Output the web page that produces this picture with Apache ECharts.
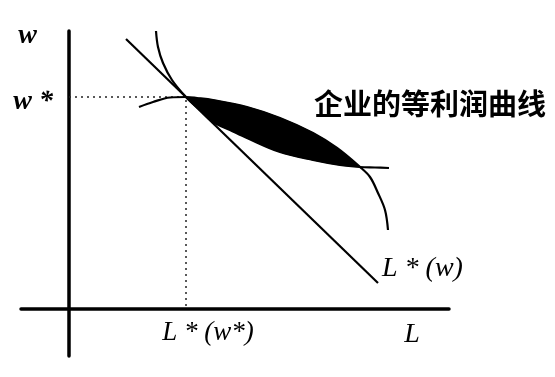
<!DOCTYPE html>
<html>
<head>
<meta charset="utf-8">
<script src="https://cdn.jsdelivr.net/npm/echarts@6/dist/echarts.min.js"></script>
<style>
  html, body { margin: 0; padding: 0; background: #fff; }
  #chart { width: 555px; height: 377px; }
</style>
</head>
<body>
<div id="chart"></div>
<script>
// ---- data (abstract units: labour L horizontally, wage w vertically) ----
const tangentPoint = [11.7, 21.2];              // (L*(w*), w*)
const crossPoint = [29.1, 14.2];                // where the two curves meet again
const tangentLine = [[5.7, 27.0], [30.9, 2.6]]; // L*(w)

// isoprofit curve A: steep top, tangent to L*(w), lower edge of the lens, flat tail
const curveASteep = [[8.7, 27.8], [8.9, 26.2], [9.4, 24.6], [10.3, 22.9]];
const lensLower = [[13.1, 19.9], [14.4, 18.7], [16.1, 17.9], [17.8, 17.1], [21.1, 15.7], [24.4, 14.9], [27.1, 14.4]];
const curveATail = [[30.6, 14.15], [32.0, 14.1]];

// isoprofit curve B: flat at w*, upper edge of the lens, steep tail
const curveBHead = [[7.0, 20.2], [8.4, 20.7], [10.1, 21.15]];
const lensUpper = [[12.8, 21.1], [14.4, 20.9], [17.8, 20.2], [21.1, 19.1], [24.4, 17.6], [26.8, 16.1]];
const curveBTail = [[30.1, 13.2], [30.9, 11.6], [31.6, 9.9], [31.9, 7.9]];

const labelLStar = 'L * (w*)';
const labelWStar = 'w *';
const labelLine = 'L * (w)';
const nameX = 'L';
const nameY = 'w';
const curveTitle = '企业的等利润曲线';

// ---- build series from the arrays ----
const curveA = [...curveASteep, tangentPoint, ...lensLower, crossPoint, ...curveATail];
const curveB = [...curveBHead, tangentPoint, ...lensUpper, crossPoint, ...curveBTail];
const upperEdge = [tangentPoint, ...lensUpper, crossPoint];
const lowerEdge = [tangentPoint, ...lensLower, crossPoint];
const guide = [[0, tangentPoint[1]], tangentPoint, [tangentPoint[0], 0]];

const SMOOTH = 0.35;

// cubic bezier smoothing of a pixel polyline (same idea as the line series' smooth)
function smoothPixels(pts, s) {
  const out = [];
  const n = pts.length;
  const cps = pts.map((p, i) => {
    if (i === 0 || i === n - 1) return [p.slice(), p.slice()];
    const prev = pts[i - 1], next = pts[i + 1];
    const vx = next[0] - prev[0], vy = next[1] - prev[1];
    const d0 = Math.hypot(p[0] - prev[0], p[1] - prev[1]);
    const d1 = Math.hypot(next[0] - p[0], next[1] - p[1]);
    const r = d1 / (d0 + d1 || 1);
    return [[p[0] - vx * s * (1 - r), p[1] - vy * s * (1 - r)],
            [p[0] + vx * s * r, p[1] + vy * s * r]];
  });
  for (let i = 0; i < n - 1; i++) {
    const p0 = pts[i], p3 = pts[i + 1], c1 = cps[i][1], c2 = cps[i + 1][0];
    for (let k = 0; k < 12; k++) {
      const t = k / 12, u = 1 - t;
      out.push([
        u * u * u * p0[0] + 3 * u * u * t * c1[0] + 3 * u * t * t * c2[0] + t * t * t * p3[0],
        u * u * u * p0[1] + 3 * u * u * t * c1[1] + 3 * u * t * t * c2[1] + t * t * t * p3[1]
      ]);
    }
  }
  out.push(pts[n - 1].slice());
  return out;
}

const serif = 'Liberation Serif';
const chart = echarts.init(document.getElementById('chart'), null, { renderer: 'canvas' });

chart.setOption({
  backgroundColor: '#fff',
  animation: false,
  title: {
    text: curveTitle,
    left: 314, top: 89, padding: 0,
    textStyle: { fontFamily: 'Noto Sans CJK SC', fontSize: 29, fontWeight: 'bold', color: '#000' }
  },
  grid: { left: 21, right: 106, top: 31, bottom: 21, containLabel: false, outerBoundsMode: 'none' },
  xAxis: {
    type: 'value', min: -4.8, max: 38.0,
    axisLine: { onZero: true, lineStyle: { color: '#000', width: 3.5 } },
    axisTick: { show: false },
    splitLine: { show: false },
    axisLabel: {
      customValues: [tangentPoint[0]],
      formatter: () => labelLStar,
      margin: -37, padding: [0, 0, 0, 44],
      fontFamily: serif, fontStyle: 'italic', fontSize: 27, color: '#000'
    },
    name: nameX, nameLocation: 'end', nameGap: -37,
    nameTextStyle: { fontFamily: serif, fontStyle: 'italic', fontSize: 28, color: '#000',
      align: 'center', verticalAlign: 'top', padding: [12, 0, 0, 0] }
  },
  yAxis: {
    type: 'value', min: -4.7, max: 27.8,
    axisLine: { onZero: true, lineStyle: { color: '#000', width: 3.5 } },
    axisTick: { show: false },
    splitLine: { show: false },
    axisLabel: {
      customValues: [tangentPoint[1]],
      formatter: () => '{s|' + labelWStar + '}',
      margin: -32,
      rich: {
        s: { padding: [10, 0, 0, 0], fontFamily: serif, fontStyle: 'italic', fontWeight: 'bold', fontSize: 28, color: '#000' }
      },
      fontFamily: serif, fontStyle: 'italic', fontWeight: 'bold', fontSize: 28, color: '#000'
    },
    name: nameY, nameLocation: 'end', nameGap: -5,
    nameTextStyle: { fontFamily: serif, fontStyle: 'italic', fontWeight: 'bold', fontSize: 28, color: '#000',
      align: 'right', verticalAlign: 'middle', padding: [0, 32, 0, 0] }
  },
  series: [
    {
      type: 'custom', name: 'lens', z: 1,
      data: [tangentPoint],
      renderItem: function (params, api) {
        if (params.dataIndex !== 0) return null;
        const up = smoothPixels(upperEdge.map(p => api.coord(p)), SMOOTH);
        const low = smoothPixels(lowerEdge.map(p => api.coord(p)), SMOOTH);
        const pts = up.concat(low.reverse());
        return { type: 'polygon', shape: { points: pts }, style: { fill: '#000', stroke: '#000', lineWidth: 1 } };
      }
    },
    {
      type: 'line', name: 'guide', data: guide, showSymbol: false, z: 2,
      lineStyle: { color: '#222', width: 1.5, type: [2, 4] }
    },
    {
      type: 'line', name: 'curveA', data: curveA, showSymbol: false, smooth: SMOOTH, z: 3,
      lineStyle: { color: '#000', width: 2.2 }
    },
    {
      type: 'line', name: 'curveB', data: curveB, showSymbol: false, smooth: SMOOTH, z: 3,
      lineStyle: { color: '#000', width: 2.2 }
    },
    {
      type: 'line', name: 'L*(w)', data: tangentLine, showSymbol: false, z: 3,
      lineStyle: { color: '#000', width: 2.2 },
      endLabel: { show: true, formatter: () => labelLine, offset: [-4, -14],
        fontFamily: serif, fontStyle: 'italic', fontSize: 28, color: '#000' }
    }
  ]
});
</script>
</body>
</html>
